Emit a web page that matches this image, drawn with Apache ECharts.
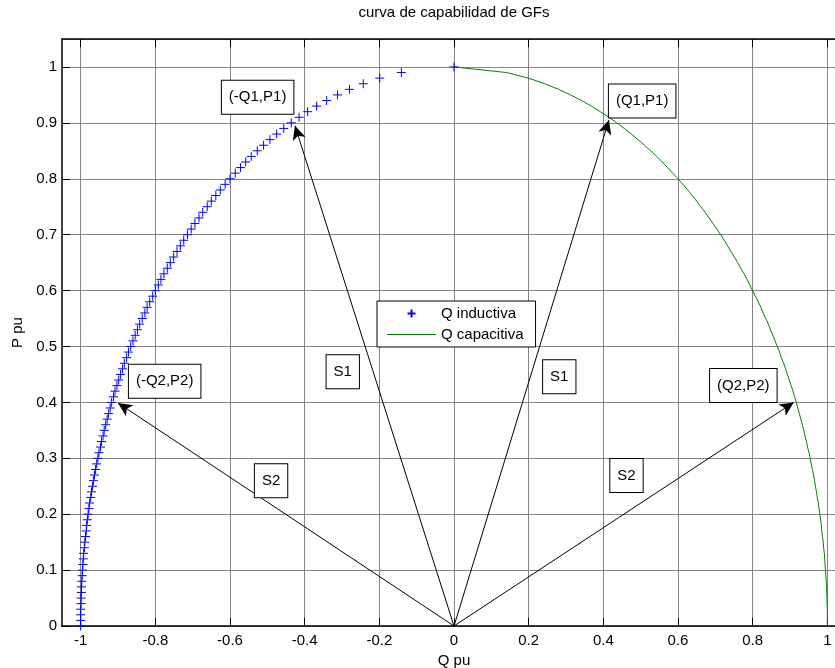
<!DOCTYPE html>
<html>
<head>
<meta charset="utf-8">
<script src="https://cdn.jsdelivr.net/npm/echarts@6/dist/echarts.min.js"></script>
<style>
  html, body { margin: 0; padding: 0; background: #ffffff; }
  #chart { width: 835px; height: 668px; }
</style>
</head>
<body>
<div id="chart"></div>
<script>
// Active power P (pu) sampled along the capability curve
const pValues = [
  0.00, 0.01, 0.02, 0.03, 0.04, 0.05, 0.06, 0.07, 0.08, 0.09,
  0.10, 0.11, 0.12, 0.13, 0.14, 0.15, 0.16, 0.17, 0.18, 0.19,
  0.20, 0.21, 0.22, 0.23, 0.24, 0.25, 0.26, 0.27, 0.28, 0.29,
  0.30, 0.31, 0.32, 0.33, 0.34, 0.35, 0.36, 0.37, 0.38, 0.39,
  0.40, 0.41, 0.42, 0.43, 0.44, 0.45, 0.46, 0.47, 0.48, 0.49,
  0.50, 0.51, 0.52, 0.53, 0.54, 0.55, 0.56, 0.57, 0.58, 0.59,
  0.60, 0.61, 0.62, 0.63, 0.64, 0.65, 0.66, 0.67, 0.68, 0.69,
  0.70, 0.71, 0.72, 0.73, 0.74, 0.75, 0.76, 0.77, 0.78, 0.79,
  0.80, 0.81, 0.82, 0.83, 0.84, 0.85, 0.86, 0.87, 0.88, 0.89,
  0.90, 0.91, 0.92, 0.93, 0.94, 0.95, 0.96, 0.97, 0.98, 0.99,
  1.00
];

// Capacitive reactive power Q (pu) for each P
const qCapacitive = [
  1.000, 1.000, 1.000, 1.000, 0.999, 0.999, 0.998, 0.998, 0.997, 0.996,
  0.995, 0.994, 0.993, 0.992, 0.990, 0.989, 0.987, 0.985, 0.984, 0.982,
  0.980, 0.978, 0.976, 0.973, 0.971, 0.968, 0.966, 0.963, 0.960, 0.957,
  0.954, 0.951, 0.947, 0.944, 0.940, 0.937, 0.933, 0.929, 0.925, 0.921,
  0.917, 0.912, 0.908, 0.903, 0.898, 0.893, 0.888, 0.883, 0.877, 0.872,
  0.866, 0.860, 0.854, 0.848, 0.842, 0.835, 0.828, 0.822, 0.815, 0.807,
  0.800, 0.792, 0.785, 0.777, 0.768, 0.760, 0.751, 0.742, 0.733, 0.724,
  0.714, 0.704, 0.694, 0.683, 0.673, 0.661, 0.650, 0.638, 0.626, 0.613,
  0.600, 0.586, 0.572, 0.558, 0.543, 0.527, 0.510, 0.493, 0.475, 0.456,
  0.436, 0.415, 0.392, 0.368, 0.341, 0.312, 0.280, 0.243, 0.199, 0.141,
  0.000
];

// Inductive reactive power Q (pu) for each P
const qInductive = [
  -1.000, -1.000, -1.000, -1.000, -0.999, -0.999, -0.998, -0.998, -0.997, -0.996,
  -0.995, -0.994, -0.993, -0.992, -0.990, -0.989, -0.987, -0.985, -0.984, -0.982,
  -0.980, -0.978, -0.976, -0.973, -0.971, -0.968, -0.966, -0.963, -0.960, -0.957,
  -0.954, -0.951, -0.947, -0.944, -0.940, -0.937, -0.933, -0.929, -0.925, -0.921,
  -0.917, -0.912, -0.908, -0.903, -0.898, -0.893, -0.888, -0.883, -0.877, -0.872,
  -0.866, -0.860, -0.854, -0.848, -0.842, -0.835, -0.828, -0.822, -0.815, -0.807,
  -0.800, -0.792, -0.785, -0.777, -0.768, -0.760, -0.751, -0.742, -0.733, -0.724,
  -0.714, -0.704, -0.694, -0.683, -0.673, -0.661, -0.650, -0.638, -0.626, -0.613,
  -0.600, -0.586, -0.572, -0.558, -0.543, -0.527, -0.510, -0.493, -0.475, -0.456,
  -0.436, -0.415, -0.392, -0.368, -0.341, -0.312, -0.280, -0.243, -0.199, -0.141,
  0.000
];

// Tick values
const xTicks = [-1, -0.8, -0.6, -0.4, -0.2, 0, 0.2, 0.4, 0.6, 0.8, 1];
const yTicks = [0, 0.1, 0.2, 0.3, 0.4, 0.5, 0.6, 0.7, 0.8, 0.9, 1];

// Apparent power vectors S from the origin to the operating points
const arrowTipsQ = [-0.426, 0.415, -0.900, 0.910];
const arrowTipsP = [0.895, 0.905, 0.399, 0.400];

// Boxed annotations
const noteTexts = ['(-Q1,P1)', '(Q1,P1)', '(-Q2,P2)', '(Q2,P2)', 'S1', 'S1', 'S2', 'S2'];
const noteQ = [-0.526, 0.504, -0.775, 0.775, -0.298, 0.282, -0.490, 0.462];
const noteP = [0.946, 0.939, 0.438, 0.430, 0.455, 0.446, 0.260, 0.269];

const FONT = "'Liberation Sans', Arial, Helvetica, sans-serif";
const chart = echarts.init(document.getElementById('chart'), null, { renderer: 'canvas' });

const plusSymbol = 'path://M0,5L10,5M5,0L5,10';
const lineIcon = 'path://M0,0L49,0L49,1.2L0,1.2Z';

const option = {
  animation: false,
  backgroundColor: '#ffffff',
  textStyle: { fontFamily: FONT },
  title: {
    text: 'curva de capabilidad de GFs',
    left: 454,
    top: 5,
    padding: 0,
    textAlign: 'center',
    textStyle: { fontSize: 15, fontWeight: 'normal', color: '#000', fontFamily: FONT }
  },
  grid: {
    left: 62, top: 39, width: 784, height: 587,
    containLabel: false,
    outerBoundsMode: 'none'
  },
  legend: {
    data: [
      { name: 'Q inductiva' },
      { name: 'Q capacitiva', icon: lineIcon, itemStyle: { color: '#008000', borderWidth: 0 } }
    ],
    orient: 'vertical',
    left: 377, top: 301,
    padding: [5, 12, 5, 10],
    itemGap: 6,
    itemWidth: 49,
    itemHeight: 8,
    backgroundColor: '#ffffff',
    borderColor: '#000000',
    borderWidth: 1,
    borderRadius: 0,
    selectedMode: false,
    textStyle: { fontSize: 15, color: '#000', fontFamily: FONT }
  },
  xAxis: [
    {
      type: 'value', min: -1.05, max: 1.05, position: 'bottom',
      name: 'Q pu', nameLocation: 'middle', nameGap: 19,
      nameTextStyle: { fontSize: 15, color: '#000', fontFamily: FONT },
      axisLine: { onZero: false, lineStyle: { color: '#000', width: 1.5 } },
      axisTick: { inside: true, length: 8, customValues: xTicks, lineStyle: { color: '#000', width: 1 } },
      axisLabel: { customValues: xTicks, fontSize: 15, color: '#000', margin: 7, fontFamily: FONT },
      splitLine: { show: true, lineStyle: { color: '#858585', width: 1, type: 'solid' } }
    },
    {
      type: 'value', min: -1.05, max: 1.05, position: 'top',
      axisLine: { onZero: false, lineStyle: { color: '#000', width: 1.5 } },
      axisTick: { inside: true, length: 8, customValues: xTicks, lineStyle: { color: '#000', width: 1 } },
      axisLabel: { show: false },
      splitLine: { show: false }
    }
  ],
  yAxis: {
    type: 'value', min: 0, max: 1.05, interval: 0.1,
    name: 'P pu', nameLocation: 'middle', nameGap: 33,
    nameTextStyle: { fontSize: 15, color: '#000', fontFamily: FONT },
    axisLine: { onZero: false, lineStyle: { color: '#000', width: 1.5 } },
    axisTick: { inside: true, length: 8, lineStyle: { color: '#000', width: 1 } },
    axisLabel: { fontSize: 15, color: '#000', margin: 5, showMaxLabel: false, fontFamily: FONT },
    splitLine: { show: true, lineStyle: { color: '#858585', width: 1, type: 'solid' } }
  },
  series: [
    {
      name: 'Q inductiva',
      type: 'scatter',
      symbol: plusSymbol,
      symbolSize: 9,
      itemStyle: { color: 'transparent', borderColor: '#0000ff', borderWidth: 1, opacity: 1 },
      data: pValues.map((p, i) => [qInductive[i], p]),
      z: 3
    },
    {
      name: 'Q capacitiva',
      type: 'line',
      symbol: 'none',
      showSymbol: false,
      lineStyle: { color: '#008000', width: 1 },
      itemStyle: { color: '#008000' },
      data: pValues.map((p, i) => [qCapacitive[i], p]),
      z: 3
    },
    {
      name: 'S',
      type: 'line',
      data: [],
      z: 4,
      markLine: {
        silent: true,
        symbol: ['none', 'arrow'],
        symbolSize: [10, 14],
        lineStyle: { color: '#000', width: 1, type: 'solid' },
        itemStyle: { color: '#000' },
        label: { show: false },
        emphasis: { disabled: true },
        data: arrowTipsQ.map((q, i) => [{ coord: [0, 0] }, { coord: [q, arrowTipsP[i]] }])
      }
    },
    {
      name: 'notes',
      type: 'scatter',
      symbolSize: 0,
      silent: true,
      z: 10,
      itemStyle: { opacity: 1 },
      label: {
        show: true,
        position: 'inside',
        formatter: (d) => d.name,
        fontSize: 15,
        lineHeight: 17,
        color: '#000',
        opacity: 1,
        fontFamily: FONT,
        backgroundColor: '#ffffff',
        borderColor: '#000000',
        borderWidth: 1,
        padding: [8, 7, 8, 7]
      },
      data: noteTexts.map((t, i) => ({ name: t, value: [noteQ[i], noteP[i]] }))
    }
  ]
};

chart.setOption(option);
</script>
</body>
</html>
